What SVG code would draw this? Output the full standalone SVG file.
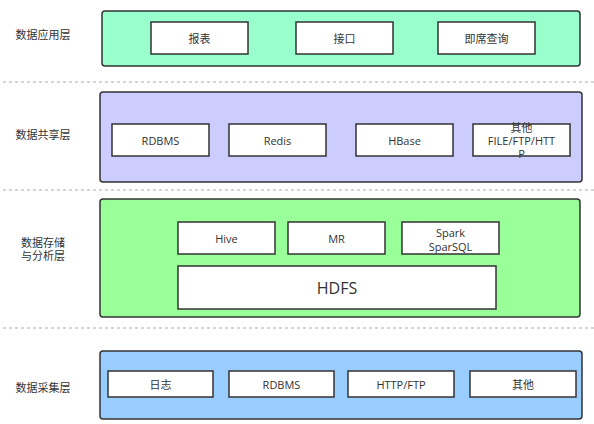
<svg xmlns="http://www.w3.org/2000/svg" width="594" height="424" viewBox="0 0 594 424">
<style>
text{font-family:"Open Sans","Noto Sans CJK SC",sans-serif;font-size:11px;fill:#333;text-anchor:middle;dominant-baseline:central}
.layer{stroke:#333;stroke-width:1.5}
.box{fill:#fff;stroke:#333;stroke-width:1.5}
.sep{stroke:#aaa;stroke-width:1;stroke-dasharray:3 3;fill:none}
</style>
<rect width="594" height="424" fill="#fff"/>
<g id="separators">
<line class="sep" x1="3" y1="82" x2="594" y2="82"/>
<line class="sep" x1="3" y1="190" x2="594" y2="190"/>
<line class="sep" x1="3" y1="328" x2="594" y2="328"/>
</g>
<g id="layer-app">
<rect class="layer" x="102" y="11" width="478" height="55" rx="3" fill="#99FFCC"/>
<text x="43" y="34">数据应用层</text>
<g id="app-report"><rect class="box" x="151" y="22" width="97" height="32"/><text x="199.5" y="38">报表</text></g>
<g id="app-api"><rect class="box" x="296" y="22" width="97" height="32"/><text x="344.5" y="38">接口</text></g>
<g id="app-adhoc"><rect class="box" x="438" y="22" width="97" height="32"/><text x="486.5" y="38">即席查询</text></g>
</g>
<g id="layer-share">
<rect class="layer" x="100" y="92" width="482" height="90" rx="3" fill="#CCCCFF"/>
<text x="43" y="134">数据共享层</text>
<g id="share-rdbms"><rect class="box" x="112" y="124" width="97" height="32"/><text x="160.5" y="140">RDBMS</text></g>
<g id="share-redis"><rect class="box" x="229" y="124" width="97" height="32"/><text x="277.5" y="140">Redis</text></g>
<g id="share-hbase"><rect class="box" x="356" y="124" width="97" height="32"/><text x="404.5" y="140">HBase</text></g>
<g id="share-other"><rect class="box" x="473" y="124" width="97" height="32"/>
<text x="521.5" y="127">其他</text><text x="521.5" y="140">FILE/FTP/HTT</text><text x="521.5" y="153">P</text></g>
</g>
<g id="layer-storage">
<rect class="layer" x="100" y="199" width="480" height="118" rx="3" fill="#99FF99"/>
<text x="43" y="242">数据存储</text>
<text x="43" y="255">与分析层</text>
<g id="st-hive"><rect class="box" x="178" y="222" width="97" height="32"/><text x="226.5" y="238">Hive</text></g>
<g id="st-mr"><rect class="box" x="288" y="222" width="97" height="32"/><text x="336.5" y="238">MR</text></g>
<g id="st-spark"><rect class="box" x="402" y="222" width="97" height="32"/><text x="450.5" y="232">Spark</text><text x="450.5" y="246">SparSQL</text></g>
<g id="st-hdfs"><rect class="box" x="178" y="266" width="318" height="43"/><text x="337" y="288" style="font-size:16px">HDFS</text></g>
</g>
<g id="layer-collect">
<rect class="layer" x="100" y="351" width="482" height="68" rx="3" fill="#99CCFF"/>
<text x="43" y="387">数据采集层</text>
<g id="col-log"><rect class="box" x="108" y="371" width="105" height="26"/><text x="160.5" y="384">日志</text></g>
<g id="col-rdbms"><rect class="box" x="229" y="371" width="105" height="26"/><text x="281.5" y="384">RDBMS</text></g>
<g id="col-http"><rect class="box" x="348" y="371" width="106" height="26"/><text x="401" y="384">HTTP/FTP</text></g>
<g id="col-other"><rect class="box" x="470" y="371" width="106" height="26"/><text x="523" y="384">其他</text></g>
</g>
<g id="connectors"></g>
</svg>
